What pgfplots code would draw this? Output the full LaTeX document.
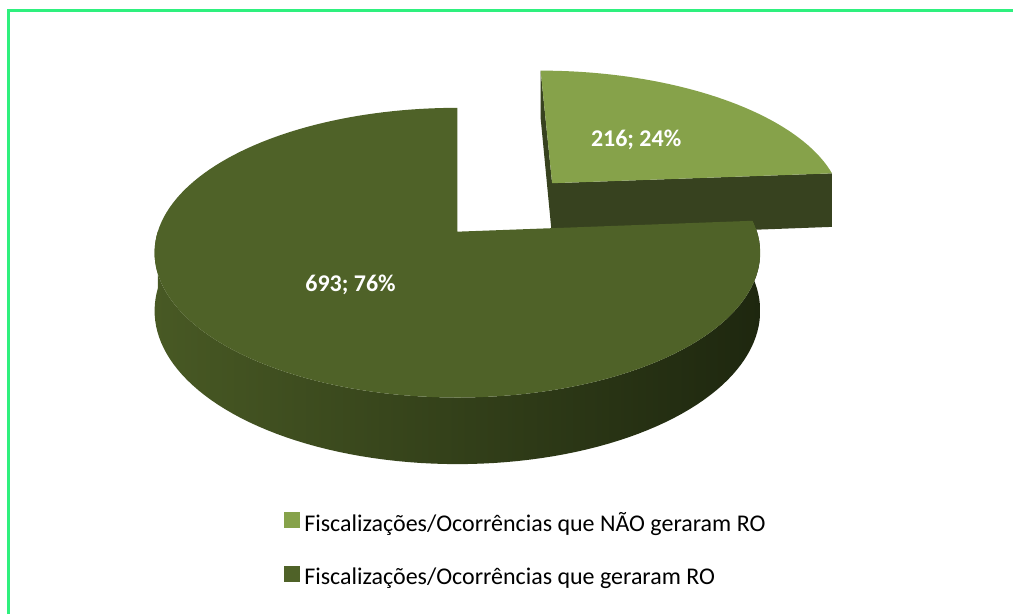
\documentclass[border=0pt]{standalone}
\usepackage{fontspec}
\setmainfont{Carlito}
\usepackage{pgfplots}
\usepackage{pgfplotstable}
\pgfplotsset{compat=1.18}

\definecolor{frameg}{RGB}{46,240,126}
\definecolor{lighttop}{RGB}{134,162,74}
\definecolor{lightside}{RGB}{55,66,31}
\definecolor{darktop}{RGB}{79,98,40}
\definecolor{sideL}{RGB}{72,89,36}
\definecolor{sideM}{RGB}{44,56,22}
\definecolor{sideR}{RGB}{30,39,15}

\pgfplotstableread{
id value
nao 216
sim 693
}\piedata

% perspective projection of a point of the pie plane (unit radius) to pixel coordinates
\pgfmathdeclarefunction{pu}{2}{\pgfmathparse{458+300*(#1)/(1+0.145*(#2))}}
\pgfmathdeclarefunction{pv}{3}{\pgfmathparse{383+(142*(#2)+57*(#3))/(1+0.145*(#2))}}

\begin{document}%
\begin{tikzpicture}
\pgfplotstablegetelem{0}{value}\of\piedata \global\let\va\pgfplotsretval
\pgfplotstablegetelem{1}{value}\of\piedata \global\let\vb\pgfplotsretval
\pgfmathsetmacro\tot{\va+\vb}
\pgfmathsetmacro\fr{\va/\tot}
\pgfmathsetmacro\te{90-360*\fr}
\pgfmathsetmacro\tee{\te+360}
\pgfmathsetmacro\tm{90-180*\fr}
\pgfmathsetmacro\ox{0.49*cos(\tm)}
\pgfmathsetmacro\oy{0.49*sin(\tm)}
\begin{axis}[
  scale only axis, width=507pt, height=307.5pt,
  xmin=0, xmax=1014, ymin=0, ymax=615,
  hide axis, clip=false,
  legend style={at={(axis cs:284,102)}, anchor=north west, draw=none, fill=none,
    inner sep=0pt, outer sep=0pt, row sep=14pt, column sep=2.5pt,
    font=\fontsize{12}{14}\selectfont,
    nodes={inner sep=0pt, text height=9pt, text depth=3pt},
    cells={anchor=west}},
  legend image code/.code={\fill[#1] (0pt,-1pt) rectangle (7.5pt,6.5pt);},
]
\path (axis cs:0,0) rectangle (axis cs:1014,615);
\draw[frameg, line width=1.4pt] (axis cs:8.5,0) -- (axis cs:8.5,604.7) -- (axis cs:1014,604.7);

% exploded small slice: left wall (90 deg)
\fill[lightside] (axis cs:{pu(\ox,\oy)},{pv(\ox,\oy,0)})
  -- (axis cs:{pu(\ox,\oy+1)},{pv(\ox,\oy+1,0)})
  -- (axis cs:{pu(\ox,\oy+1)},{pv(\ox,\oy+1,-1)})
  -- (axis cs:{pu(\ox,\oy)},{pv(\ox,\oy,-1)}) -- cycle;
% front radial wall
\fill[lightside] (axis cs:{pu(\ox,\oy)},{pv(\ox,\oy,0)})
  -- (axis cs:{pu(\ox+cos(\te),\oy+sin(\te))},{pv(\ox+cos(\te),\oy+sin(\te),0)})
  -- (axis cs:{pu(\ox+cos(\te),\oy+sin(\te))},{pv(\ox+cos(\te),\oy+sin(\te),-1)})
  -- (axis cs:{pu(\ox,\oy)},{pv(\ox,\oy,-1)}) -- cycle;
% top face
\fill[lighttop] (axis cs:{pu(\ox,\oy)},{pv(\ox,\oy,0)})
  -- (axis cs:{pu(\ox+cos(\te),\oy+sin(\te))},{pv(\ox+cos(\te),\oy+sin(\te),0)})
  \foreach \q in {6,8,...,90} {-- (axis cs:{pu(\ox+cos(\q),\oy+sin(\q))},{pv(\ox+cos(\q),\oy+sin(\q),0)})}
  -- cycle;

% big slice: outer wall
\shade[left color=sideL, middle color=sideM, right color=sideR]
  (axis cs:{pu(cos(180),sin(180))},{pv(cos(180),sin(180),0)})
  \foreach \q in {182,184,...,364} {-- (axis cs:{pu(cos(\q),sin(\q))},{pv(cos(\q),sin(\q),0)})}
  -- (axis cs:{pu(cos(\tee),sin(\tee))},{pv(cos(\tee),sin(\tee),0)})
  -- (axis cs:{pu(cos(\tee),sin(\tee))},{pv(cos(\tee),sin(\tee),-1)})
  \foreach \q in {364,362,...,180} {-- (axis cs:{pu(cos(\q),sin(\q))},{pv(cos(\q),sin(\q),-1)})}
  -- cycle;
% big slice: top face
\fill[darktop] (axis cs:{pu(0,0)},{pv(0,0,0)})
  \foreach \q in {90,92,...,364} {-- (axis cs:{pu(cos(\q),sin(\q))},{pv(cos(\q),sin(\q),0)})}
  -- (axis cs:{pu(cos(\tee),sin(\tee))},{pv(cos(\tee),sin(\tee),0)})
  -- cycle;

\node[text=white, font=\bfseries\fontsize{12}{14}\selectfont] at (axis cs:637,475) {216; 24\%};
\node[text=white, font=\bfseries\fontsize{12}{14}\selectfont] at (axis cs:351,330) {693; 76\%};

\addlegendimage{lighttop}
\addlegendentry{Fiscalizações/Ocorrências que NÃO geraram RO}
\addlegendimage{darktop}
\addlegendentry{Fiscalizações/Ocorrências que geraram RO}
\end{axis}
\end{tikzpicture}%
\end{document}
